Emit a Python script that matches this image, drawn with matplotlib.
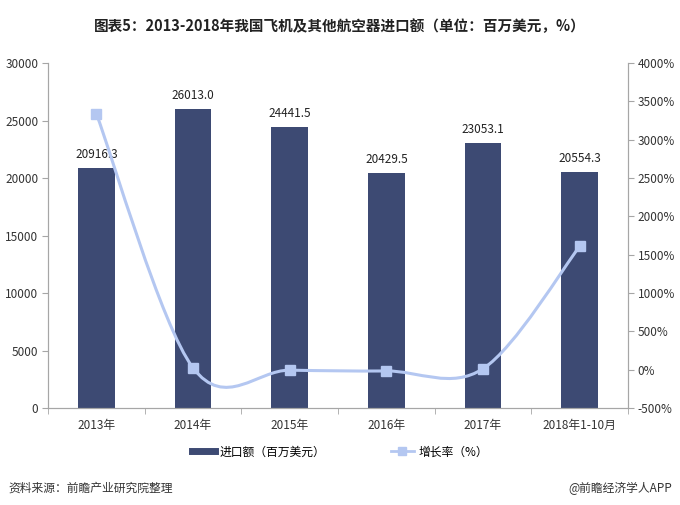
import numpy as np
import matplotlib.pyplot as plt
from matplotlib.path import Path
from matplotlib.patches import PathPatch
from matplotlib.lines import Line2D

plt.rcParams['font.family'] = ['Noto Sans CJK SC', 'DejaVu Sans']

years = ['2013年', '2014年', '2015年', '2016年', '2017年', '2018年1-10月']
imports = [20916.3, 26013.0, 24441.5, 20429.5, 23053.1, 20554.3]
growth = [3340, 24.4, -6.0, -16.4, 12.8, 1610]

bar_color = '#3d4a73'
line_color = '#b4c7f1'
axis_color = '#a6a6a6'
text_color = '#333333'

fig = plt.figure(figsize=(6.8, 5.05), dpi=100)
ax = fig.add_axes([0.0706, 0.192, 0.853, 0.683])
ax2 = ax.twinx()

x = np.arange(len(years))
ax.bar(x, imports, width=0.38, color=bar_color, zorder=2)
for xi, v in zip(x, imports):
    ax.text(xi, v + 600, f'{v:.1f}', ha='center', va='bottom', fontsize=8.5, color='#222222')

ax.set_xlim(-0.5, len(years) - 0.5)
ax.set_ylim(0, 30000)
ax.set_yticks(range(0, 30001, 5000))
ax2.set_ylim(-500, 4000)
ax2.set_yticks(range(-500, 4001, 500))
ax2.set_yticklabels([f'{t}%' for t in range(-500, 4001, 500)])

ax.set_xticks(x)
ax.set_xticklabels(years)
ax.set_xticks(np.arange(-0.5, len(years), 1), minor=True)
ax.tick_params(axis='x', which='major', length=0, pad=8, labelsize=8.5, labelcolor=text_color)
ax.tick_params(axis='x', which='minor', length=4, color=axis_color)
ax.tick_params(axis='y', length=4, color=axis_color, labelsize=8.5, pad=3, labelcolor=text_color)
ax2.tick_params(axis='y', length=4, color=axis_color, labelsize=8.5, pad=3, labelcolor=text_color)

for a in (ax, ax2):
    a.spines['top'].set_visible(False)
    for s in ('left', 'right', 'bottom'):
        a.spines[s].set_color(axis_color)

# smoothed growth line (Bezier through the data points)
pts = np.column_stack([x, growth]).astype(float)
verts = [pts[0]]
codes = [Path.MOVETO]
n = len(pts)
for i in range(n - 1):
    p0 = pts[i - 1] if i > 0 else pts[i]
    p1 = pts[i]
    p2 = pts[i + 1]
    p3 = pts[i + 2] if i + 2 < n else pts[i + 1]
    verts += [p1 + (p2 - p0) / 6, p2 - (p3 - p1) / 6, p2]
    codes += [Path.CURVE4] * 3
ax2.add_patch(PathPatch(Path(verts, codes), facecolor='none', edgecolor=line_color,
                        lw=2.2, zorder=3))
ax2.plot(x, growth, linestyle='none', marker='s', markersize=7, color=line_color, zorder=4)

fig.suptitle('图表5：2013-2018年我国飞机及其他航空器进口额（单位：百万美元，%）',
             x=0.5, y=0.965, fontsize=10.5, fontweight='bold', color='#222222')

handles = [Line2D([0], [0], color=bar_color, lw=5),
           Line2D([0], [0], color=line_color, lw=2, marker='s', markersize=6)]
fig.legend(handles, ['进口额（百万美元）', '增长率（%）'], loc='center',
           bbox_to_anchor=(0.5, 0.105), ncol=2, frameon=False, fontsize=8.5,
           handlelength=2.0, handletextpad=0.4, columnspacing=5.5)

fig.text(0.012, 0.033, '资料来源：前瞻产业研究院整理', fontsize=8.5, style='italic',
         color='#333333', va='center')
fig.text(0.988, 0.033, '@前瞻经济学人APP', fontsize=8.5, color='#333333',
         ha='right', va='center')

fig.savefig('out.png', dpi=100)
